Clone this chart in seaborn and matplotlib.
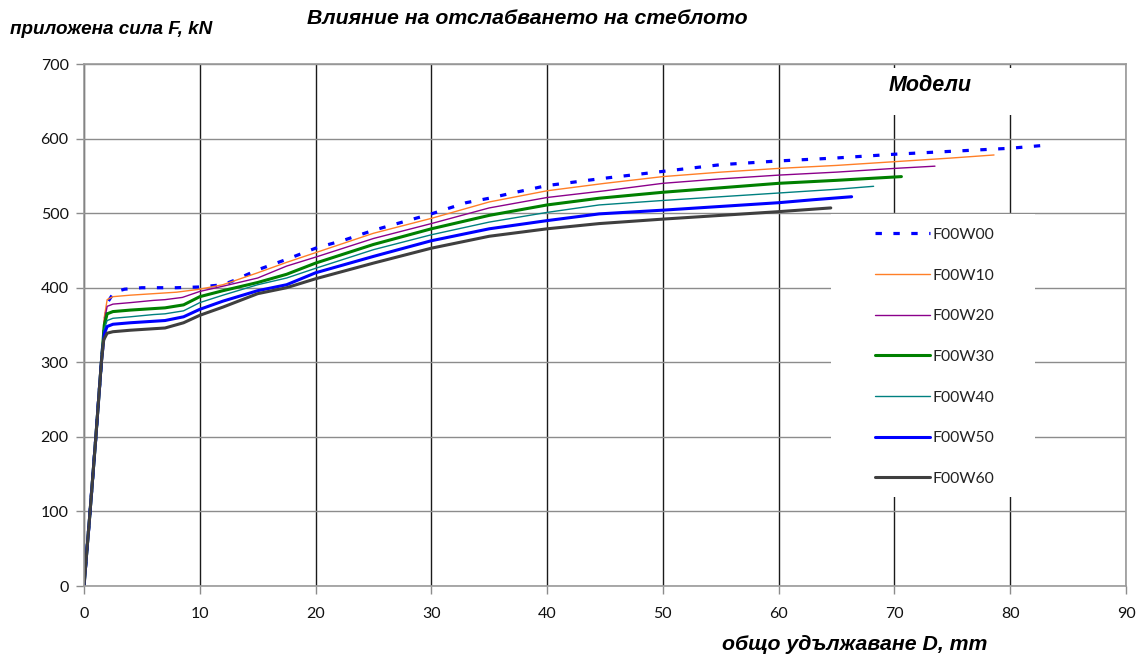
import matplotlib
matplotlib.use("Agg")
import matplotlib.pyplot as plt
import seaborn as sns
from matplotlib.patches import Rectangle

# Data: total elongation D (mm) vs applied force F (kN)
d_w00 = [0, 0.5, 1.0, 1.5, 1.8, 2.1, 2.6, 3.5, 5, 6, 8, 10, 12, 13, 15, 17.5, 20, 22.5, 25, 27.5,
         30, 33, 35, 37, 40, 44.5, 50, 55, 60, 65, 70, 75, 80, 83]
f_w00 = [0, 95, 195, 300, 355, 382, 394, 398, 400, 400, 400, 401, 404, 410, 424, 438, 453, 464, 477, 488,
         499, 514, 520, 527, 537, 546, 556, 565, 570, 574, 579, 583, 587, 591]

d_w10 = [0, 0.5, 1.0, 1.5, 1.75, 2.0, 2.5, 4, 6, 8, 10, 12, 15, 17.5, 20, 25, 30, 35, 40, 45,
         50, 55, 60, 65, 70, 75, 78.6]
f_w10 = [0, 95, 195, 300, 360, 384, 388, 390, 392, 394, 398, 404, 420, 434, 447, 473, 493, 515, 530, 540,
         549, 555, 560, 564, 569, 574, 578]

d_w20 = [0, 0.5, 1.0, 1.5, 1.75, 2.0, 2.5, 4, 6, 7, 8.5, 10, 12, 15, 17.5, 20, 25, 30, 35, 40,
         45, 50, 55, 60, 65, 70, 73.5]
f_w20 = [0, 95, 195, 300, 355, 375, 378, 380, 383, 384, 387, 395, 402, 413, 429, 441, 466, 486, 507, 521,
         530, 540, 546, 551, 555, 560, 563]

d_w30 = [0, 0.5, 1.0, 1.5, 1.75, 2.0, 2.5, 4, 6, 7, 8.6, 10, 12, 15, 17.5, 20, 25, 30, 35, 40,
         44.5, 50, 55, 60, 65, 70.6]
f_w30 = [0, 95, 195, 300, 350, 365, 368, 370, 372, 373, 377, 388, 396, 407, 418, 433, 458, 479, 497, 511,
         520, 528, 534, 540, 544, 549]

d_w40 = [0, 0.5, 1.0, 1.5, 1.75, 2.0, 2.5, 4, 6, 7, 8.6, 10, 12, 15, 17.5, 20, 25, 30, 35, 40,
         44.5, 50, 55, 60, 65, 68.2]
f_w40 = [0, 95, 195, 300, 345, 356, 359, 361, 364, 365, 369, 380, 390, 404, 413, 426, 451, 471, 488, 501,
         511, 517, 522, 527, 532, 536]

d_w50 = [0, 0.5, 1.0, 1.5, 1.75, 2.0, 2.5, 4, 6, 7, 8.6, 10, 12, 15, 17.5, 20, 25, 30, 35, 40,
         44.5, 50, 55, 60, 63, 66.3]
f_w50 = [0, 95, 195, 300, 338, 348, 351, 353, 355, 356, 361, 371, 382, 396, 404, 420, 442, 463, 479, 490,
         499, 504, 509, 514, 518, 522]

d_w60 = [0, 0.5, 1.0, 1.5, 1.7, 2.0, 2.5, 4, 6, 7, 8.6, 10, 12, 15, 17.5, 20, 25, 30, 35, 40,
         44.5, 50, 55, 60, 64.5]
f_w60 = [0, 95, 195, 300, 330, 339, 341, 343, 345, 346, 353, 363, 374, 392, 400, 412, 433, 453, 469, 479,
         486, 492, 497, 502, 507]

labels = ["F00W00", "F00W10", "F00W20", "F00W30", "F00W40", "F00W50", "F00W60"]
xs = [d_w00, d_w10, d_w20, d_w30, d_w40, d_w50, d_w60]
ys = [f_w00, f_w10, f_w20, f_w30, f_w40, f_w50, f_w60]
colors = ["#0000ff", "#ff7f27", "#8b008b", "#008000", "#008080", "#0000ff", "#3f3f3f"]
widths = [2.3, 1.0, 1.0, 2.2, 1.0, 2.2, 2.2]
styles = [(0, (2, 3.6)), "-", "-", "-", "-", "-", "-"]

sns.set_style("white")
plt.rcParams["font.family"] = ["Lato", "DejaVu Sans"]
plt.rcParams["text.color"] = "black"

fig = plt.figure(figsize=(11.41, 6.58), dpi=100)
ax = fig.add_axes([84 / 1141, 1 - 586 / 658, 1042 / 1141, 522 / 658])

for x, y, lab, c, w, s in zip(xs, ys, labels, colors, widths, styles):
    sns.lineplot(x=x, y=y, ax=ax, color=c, lw=w, linestyle=s, label=lab,
                 sort=False, estimator=None, zorder=3)

ax.set_xlim(0, 90)
ax.set_ylim(0, 700)
ax.set_xticks(range(0, 91, 10))
ax.set_yticks(range(0, 701, 100))
ax.set_xlabel("")
ax.set_ylabel("")
ax.tick_params(axis="both", labelsize=11.5, length=6, width=1, color="#8c8c8c",
               direction="out", labelcolor="#111111")
ax.tick_params(axis="x", pad=9)
ax.tick_params(axis="y", pad=5)
ax.xaxis.set_ticks_position("bottom")
ax.yaxis.set_ticks_position("left")

ax.set_axisbelow(True)
ax.grid(axis="y", color="#8c8c8c", lw=1)
ax.grid(axis="x", color="#1a1a1a", lw=1)
for sp in ax.spines.values():
    sp.set_color("#9a9a9a")
    sp.set_linewidth(1.2)
    sp.set_zorder(4)

# white boxes behind the legend and its title
ax.add_patch(Rectangle((0.717, 0.1705), 0.196, 0.543, transform=ax.transAxes,
                       facecolor="white", edgecolor="none", zorder=1))
ax.add_patch(Rectangle((0.70, 0.9023), 0.26, 0.09, transform=ax.transAxes,
                       facecolor="white", edgecolor="none", zorder=1))

leg = ax.legend(loc="upper left", bbox_to_anchor=(0.759, 0.686), frameon=False,
                fontsize=11.3, handlelength=3.5, handletextpad=0.2,
                labelspacing=1.7, borderpad=0, borderaxespad=0)
for t in leg.get_texts():
    t.set_color("#222222")

ax.text(0.812, 0.958, "Модели", transform=ax.transAxes, ha="center", va="center",
        fontsize=15.5, fontweight="bold", fontstyle="italic", family="Liberation Sans")

fig.text(527 / 1141, 1 - 18 / 658, "Влияние на отслабването на стеблото", ha="center", va="center",
         fontsize=15.3, fontweight="bold", fontstyle="italic", family="Liberation Sans")
fig.text(10 / 1141, 1 - 29 / 658, "приложена сила F, kN", ha="left", va="center",
         fontsize=13.6, fontweight="bold", fontstyle="italic", family="Liberation Sans")
fig.text(722 / 1141, 1 - 645 / 658, "общо удължаване D, mm", ha="left", va="center",
         fontsize=15.3, fontweight="bold", fontstyle="italic", family="Liberation Sans")

fig.savefig("out.png", dpi=100)
